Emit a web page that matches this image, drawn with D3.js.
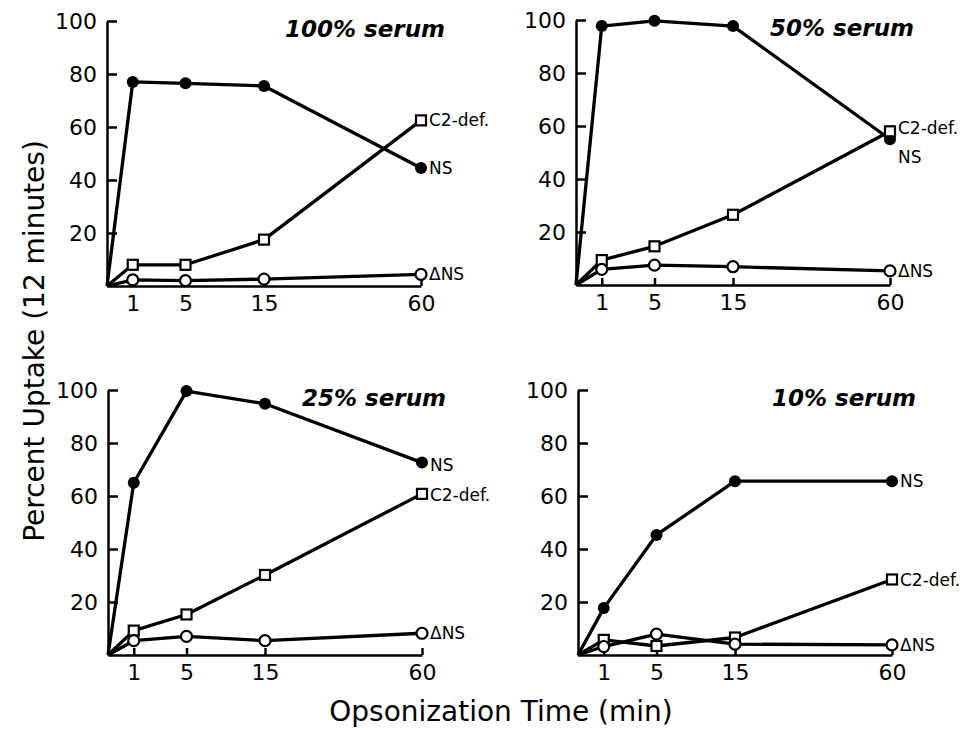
<!DOCTYPE html>
<html>
<head>
<meta charset="utf-8">
<script src="https://cdn.jsdelivr.net/npm/d3@7"></script>
<style>
  body { margin: 0; background: #fff; }
  svg { display: block; }
</style>
</head>
<body>
<svg id="chart" width="973" height="729"></svg>
<script>
/* globals d3 */

// opsonization times (min); 0 is the shared origin, no marker there
const times = [0, 1, 5, 15, 60];
const xTicks = [1, 5, 15, 60];
const yTicks = [20, 40, 60, 80, 100];
const panelTitles = ["100% serum", "50% serum", "25% serum", "10% serum"];
const seriesNames = ["NS", "C2-def.", "\u0394NS"];

// percent uptake
const ns100 = [0, 77, 76.5, 75.5, 44.5];
const c2def100 = [0, 8, 8, 17.5, 62.5];
const dns100 = [0, 2.3, 2, 2.6, 4.4];

const ns50 = [0, 97.7, 99.7, 97.7, 55];
const c2def50 = [0, 9.4, 14.6, 26.5, 58];
const dns50 = [0, 5.9, 7.5, 6.9, 5.3];

const ns25 = [0, 65, 99.6, 94.8, 72.6];
const c2def25 = [0, 9.2, 15.3, 30.2, 60.8];
const dns25 = [0, 5.4, 7, 5.4, 8.2];

const ns10 = [0, 17.7, 45.3, 65.6, 65.6];
const c2def10 = [0, 5.7, 3.4, 6.6, 28.5];
const dns10 = [0, 3.2, 7.9, 4.1, 3.8];

const panelData = [
  [ns100, c2def100, dns100],
  [ns50, c2def50, dns50],
  [ns25, c2def25, dns25],
  [ns10, c2def10, dns10],
];

// layout: where each panel's origin sits, plus label nudges
const layout = [
  { left: 107, bottom: 286, labelDy: [0, 0, 0] },
  { left: 576, bottom: 285, labelDy: [18, -3, 0] },
  { left: 108, bottom: 655, labelDy: [2, 1, 0] },
  { left: 578, bottom: 655, labelDy: [0, 0, 0] },
];
const panelW = 314;
const panelH = 265;
// the time axis is hand spaced, not linear
const xFrac = [0, 0.082, 0.25, 0.5, 1];

const svg = d3.select("#chart");

svg.append("rect")
  .attr("width", 973).attr("height", 729)
  .attr("fill", "#fff");

const line = (x, y) => d3.line()
  .x((d, i) => x(times[i]))
  .y((d) => y(d));

panelData.forEach((series, p) => {
  const lay = layout[p];
  const g = svg.append("g")
    .attr("transform", `translate(${lay.left},${lay.bottom - panelH})`);

  const x = d3.scaleLinear()
    .domain(times)
    .range(xFrac.map((f) => f * panelW));
  const y = d3.scaleLinear().domain([0, 100]).range([panelH, 0]);

  // axes
  const yAxis = g.append("g")
    .call(d3.axisLeft(y).tickValues(yTicks)
      .tickSizeInner(-10).tickSizeOuter(0).tickPadding(10));
  const xAxis = g.append("g")
    .attr("transform", `translate(0,${panelH})`)
    .call(d3.axisBottom(x).tickValues(xTicks)
      .tickSizeInner(-7).tickSizeOuter(0).tickPadding(9));

  [yAxis, xAxis].forEach((ax) => {
    ax.select(".domain").attr("stroke", "#000").attr("stroke-width", 2.5);
    ax.selectAll(".tick line").attr("stroke", "#000").attr("stroke-width", 2.5);
    ax.selectAll(".tick text")
      .attr("fill", "#000")
      .style("font-family", "'DejaVu Sans', sans-serif")
      .style("font-size", "22px");
  });

  // title
  g.append("text")
    .attr("x", panelW + 24)
    .attr("y", 16)
    .attr("text-anchor", "end")
    .style("font-family", "'DejaVu Sans', sans-serif")
    .style("font-weight", "bold")
    .style("font-style", "oblique")
    .style("font-size", "23px")
    .text(panelTitles[p]);

  // series: NS (filled circle), C2-def. (open square), ΔNS (open circle)
  series.forEach((vals, s) => {
    g.append("path")
      .datum(vals)
      .attr("d", line(x, y))
      .attr("fill", "none")
      .attr("stroke", "#000")
      .attr("stroke-width", 3.3)
      .attr("stroke-linejoin", "round");

    const pts = vals.map((v, i) => ({ t: times[i], v })).filter((d) => d.t > 0);

    if (s === 0) {
      g.selectAll(null).data(pts).join("circle")
        .attr("cx", (d) => x(d.t)).attr("cy", (d) => y(d.v))
        .attr("r", 6).attr("fill", "#000");
    } else if (s === 1) {
      g.selectAll(null).data(pts).join("rect")
        .attr("x", (d) => x(d.t) - 5).attr("y", (d) => y(d.v) - 5)
        .attr("width", 10).attr("height", 10)
        .attr("fill", "#fff").attr("stroke", "#000").attr("stroke-width", 2.2);
    } else {
      g.selectAll(null).data(pts).join("circle")
        .attr("cx", (d) => x(d.t)).attr("cy", (d) => y(d.v))
        .attr("r", 5.5).attr("fill", "#fff")
        .attr("stroke", "#000").attr("stroke-width", 2.2);
    }

    const last = vals[vals.length - 1];
    g.append("text")
      .attr("x", x(60) + 8)
      .attr("y", y(last) + lay.labelDy[s])
      .attr("dy", "0.36em")
      .style("font-family", "'DejaVu Sans', sans-serif")
      .style("font-size", "17px")
      .text(seriesNames[s]);
  });
});

// shared axis titles
svg.append("text")
  .attr("transform", "translate(44,341) rotate(-90)")
  .attr("text-anchor", "middle")
  .style("font-family", "'DejaVu Sans', sans-serif")
  .style("font-size", "28px")
  .text("Percent Uptake (12 minutes)");

svg.append("text")
  .attr("x", 501)
  .attr("y", 721)
  .attr("text-anchor", "middle")
  .style("font-family", "'DejaVu Sans', sans-serif")
  .style("font-size", "28px")
  .text("Opsonization Time (min)");
</script>
</body>
</html>
